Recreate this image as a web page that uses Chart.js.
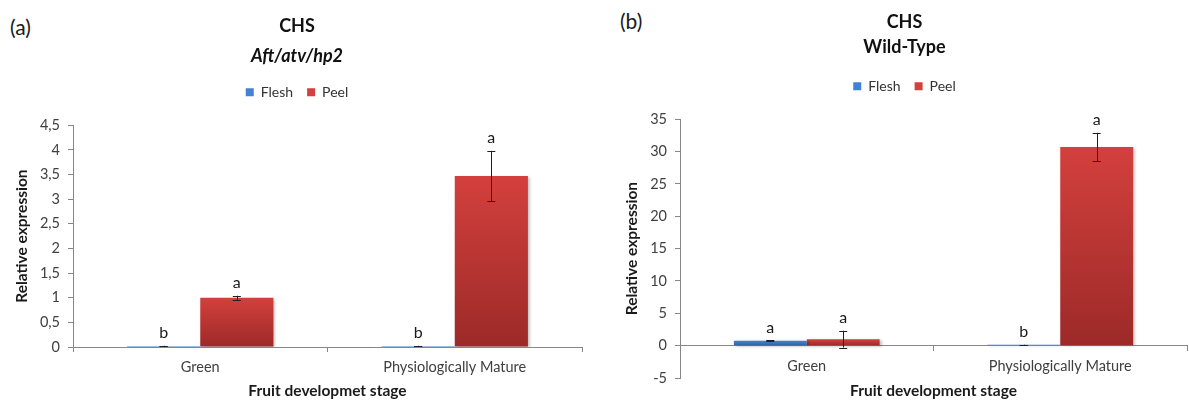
<!DOCTYPE html>
<html>
<head>
<meta charset="utf-8">
<script src="https://cdn.jsdelivr.net/npm/chart.js@4.4.1/dist/chart.umd.min.js"></script>
<style>
  html, body { margin: 0; padding: 0; background: #fff; }
  body { width: 1189px; height: 400px; position: relative; overflow: hidden; font-family: Lato, "Open Sans", sans-serif; }
  .panel { position: absolute; top: 0; }
  .tag { position: absolute; font-size: 21px; color: #1a1a1a; line-height: 1; }
</style>
</head>
<body>
<div class="tag" style="left:10px; top:16px;">(a)</div>
<div class="tag" style="left:620px; top:10px;">(b)</div>
<div class="panel" style="left:0; width:600px; height:400px;"><canvas id="chartA" width="600" height="400"></canvas></div>
<div class="panel" style="left:600px; width:589px; height:400px;"><canvas id="chartB" width="589" height="400"></canvas></div>
<script>
// Fruit development stages and series
const stages = ['Green', 'Physiologically Mature'];
const seriesNames = ['Flesh', 'Peel'];

// Panel (a): Aft/atv/hp2
const fleshA = [0.02, 0.02];
const fleshErrA = [0.005, 0.005];
const peelA = [1.0, 3.47];
const peelErrA = [0.04, 0.51];
const fleshLettersA = ['b', 'b'];
const peelLettersA = ['a', 'a'];
const yTicksA = ['0', '0,5', '1', '1,5', '2', '2,5', '3', '3,5', '4', '4,5'];

// Panel (b): Wild-Type
const fleshB = [0.75, 0.15];
const fleshErrB = [0.05, 0.02];
const peelB = [1.0, 30.7];
const peelErrB = [1.3, 2.2];
const fleshLettersB = ['a', 'b'];
const peelLettersB = ['a', 'a'];
const yTicksB = ['-5', '0', '5', '10', '15', '20', '25', '30', '35'];

const FONT = 'Lato, "Open Sans", sans-serif';
const AXIS = '#878787';

// vertical gradient per bar, from its top to the baseline
function barFill(topColor, bottomColor) {
  return (c) => {
    if (c.type !== 'data') return topColor;
    const ys = c.chart.scales.y;
    if (!ys) return topColor;
    const y0 = ys.getPixelForValue(0);
    const y1 = ys.getPixelForValue(c.raw);
    if (!isFinite(y0) || !isFinite(y1) || Math.abs(y0 - y1) < 2) return topColor;
    const g = c.chart.ctx.createLinearGradient(0, Math.min(y0, y1), 0, Math.max(y0, y1));
    g.addColorStop(0, topColor);
    g.addColorStop(1, bottomColor);
    return g;
  };
}

// empty layout box that keeps a gap between the legend and the plot
const legendGap = {
  id: 'legendGap',
  beforeInit(chart, args, opts) {
    const size = opts.size || 0;
    Chart.layouts.addBox(chart, {
      position: 'top', weight: 1, fullSize: true,
      options: {},
      width: 0, height: 0,
      isHorizontal() { return true; },
      update(maxWidth) { this.width = maxWidth; this.height = size; },
      draw() {}
    });
  }
};

// soft drop shadow under the bars
const barShadow = {
  id: 'barShadow',
  beforeDatasetsDraw(chart) {
    const ctx = chart.ctx;
    ctx.save();
    ctx.shadowColor = 'rgba(0,0,0,0.28)';
    ctx.shadowBlur = 3;
    ctx.shadowOffsetX = 2;
    ctx.shadowOffsetY = 1;
  },
  afterDatasetsDraw(chart) { chart.ctx.restore(); }
};

// error bars and significance letters
const errorsAndLetters = {
  id: 'errorsAndLetters',
  afterDatasetsDraw(chart) {
    const ctx = chart.ctx;
    const ys = chart.scales.y;
    chart.data.datasets.forEach((ds, di) => {
      const meta = chart.getDatasetMeta(di);
      meta.data.forEach((bar, i) => {
        const v = ds.data[i];
        const e = ds.errors[i];
        const yHi = ys.getPixelForValue(v + e);
        const yLo = ys.getPixelForValue(v - e);
        ctx.save();
        ctx.strokeStyle = '#1f1f1f';
        ctx.lineWidth = 1;
        ctx.beginPath();
        ctx.moveTo(Math.round(bar.x) + 0.5, yHi);
        ctx.lineTo(Math.round(bar.x) + 0.5, yLo);
        ctx.moveTo(bar.x - 4, Math.round(yHi) + 0.5);
        ctx.lineTo(bar.x + 4, Math.round(yHi) + 0.5);
        ctx.moveTo(bar.x - 4, Math.round(yLo) + 0.5);
        ctx.lineTo(bar.x + 4, Math.round(yLo) + 0.5);
        ctx.stroke();
        const top = Math.min(yHi, bar.y);
        ctx.fillStyle = '#1a1a1a';
        ctx.font = '16px ' + FONT;
        ctx.textAlign = 'center';
        ctx.textBaseline = 'middle';
        ctx.fillText(ds.letters[i], bar.x, top - 13);
        ctx.restore();
      });
    });
  }
};

function makeChart(id, cfg) {
  const datasets = [
    { label: seriesNames[0], data: cfg.flesh, errors: cfg.fleshErr, letters: cfg.fleshLetters,
      backgroundColor: barFill('#4382d2', '#2f62a8'), borderWidth: 0 },
    { label: seriesNames[1], data: cfg.peel, errors: cfg.peelErr, letters: cfg.peelLetters,
      backgroundColor: barFill('#d3403d', '#9c2a28'), borderWidth: 0 }
  ];
  return new Chart(document.getElementById(id), {
    type: 'bar',
    data: { labels: stages, datasets },
    plugins: [legendGap, barShadow, errorsAndLetters],
    options: {
      responsive: false,
      animation: false,
      devicePixelRatio: 1,
      categoryPercentage: 0.575,
      barPercentage: 1.0,
      layout: { padding: cfg.padding },
      plugins: {
        tooltip: { enabled: false },
        legendGap: { size: cfg.gap },
        title: {
          display: true, text: 'CHS', color: '#111',
          font: { family: FONT, size: 18, weight: 'bold' },
          padding: cfg.titlePad
        },
        subtitle: {
          display: true, text: cfg.subtitle, color: '#111',
          font: { family: FONT, size: 18, weight: 'bold', style: cfg.subStyle },
          padding: cfg.subPad
        },
        legend: {
          position: 'top',
          labels: { boxWidth: 8, boxHeight: 8, padding: 14, color: '#333',
                    font: { family: FONT, size: 14 } }
        }
      },
      scales: {
        x: {
          position: cfg.xPosition,
          grid: { display: true, drawOnChartArea: false, drawTicks: true, tickLength: 5, color: AXIS, offset: true },
          border: { color: AXIS },
          ticks: { color: '#404040', padding: 7, font: { family: FONT, size: 14.5 } },
          title: { display: true, text: cfg.xTitle, color: '#1a1a1a',
                   font: { family: FONT, size: 15.5, weight: 'bold' }, padding: { top: 4, bottom: 0 } },
          afterFit(s) { s.height = cfg.xHeight; }
        },
        y: {
          min: cfg.yMin, max: cfg.yMax,
          grid: { display: true, drawOnChartArea: false, drawTicks: true, tickLength: 5, color: AXIS },
          border: { color: AXIS },
          ticks: { stepSize: cfg.step, color: '#404040', padding: 8, font: { family: FONT, size: 14.5 },
                   callback: (v, i) => cfg.yTicks[i] },
          title: { display: true, text: 'Relative expression', color: '#1a1a1a',
                   font: { family: FONT, size: 15.5, weight: 'bold' }, padding: { top: 1, bottom: 0 } },
          afterFit(s) { s.width = cfg.yWidth; }
        }
      }
    }
  });
}

makeChart('chartA', {
  flesh: fleshA, fleshErr: fleshErrA, fleshLetters: fleshLettersA,
  peel: peelA, peelErr: peelErrA, peelLetters: peelLettersA,
  subtitle: 'Aft/atv/hp2', subStyle: 'italic',
  xTitle: 'Fruit developmet stage',
  yMin: 0, yMax: 4.5, step: 0.5, yTicks: yTicksA,
  padding: { left: 12, right: 18, top: 2, bottom: 0 },
  titlePad: { top: 13, bottom: 4 },
  subPad: { top: 5, bottom: 4 },
  gap: 16,
  xPosition: 'bottom', xHeight: 53, yWidth: 61
});

makeChart('chartB', {
  flesh: fleshB, fleshErr: fleshErrB, fleshLetters: fleshLettersB,
  peel: peelB, peelErr: peelErrB, peelLetters: peelLettersB,
  subtitle: 'Wild-Type', subStyle: 'normal',
  xTitle: 'Fruit development stage',
  yMin: -5, yMax: 35, step: 5, yTicks: yTicksB,
  padding: { left: 22, right: 2, top: 3, bottom: 22 },
  titlePad: { top: 8, bottom: 2 },
  subPad: { top: 2, bottom: 7 },
  gap: 16,
  xPosition: { y: 0 }, xHeight: 55, yWidth: 58
});
</script>
</body>
</html>
